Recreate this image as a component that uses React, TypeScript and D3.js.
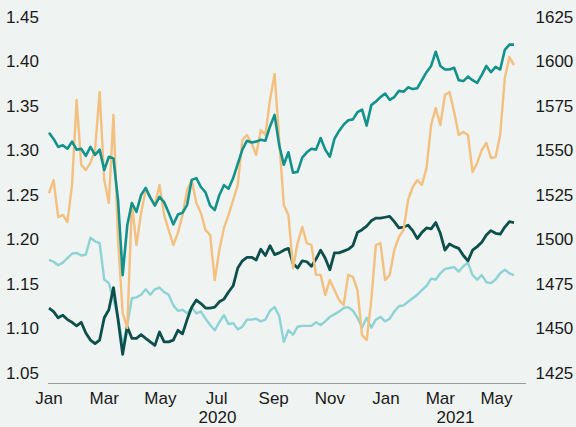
import React from "react";
import * as d3 from "d3";

// one observation every 5 days, 1 Jan 2020 .. 20 May 2021
const dates = d3.timeDay.range(new Date(2020, 0, 1), new Date(2021, 4, 22), 5);

// left axis
const gbpUsd = [
  1.320, 1.313, 1.304, 1.306, 1.302, 1.310, 1.301, 1.302, 1.294, 1.304,
  1.295, 1.301, 1.278, 1.293, 1.291, 1.244, 1.160, 1.216, 1.241, 1.231,
  1.250, 1.258, 1.247, 1.238, 1.248, 1.242, 1.230, 1.217, 1.228, 1.230,
  1.239, 1.267, 1.269, 1.259, 1.253, 1.238, 1.233, 1.250, 1.261, 1.257,
  1.269, 1.285, 1.301, 1.311, 1.309, 1.310, 1.312, 1.311, 1.327, 1.340,
  1.306, 1.284, 1.298, 1.275, 1.276, 1.292, 1.298, 1.302, 1.301, 1.314,
  1.301, 1.293, 1.313, 1.322, 1.329, 1.334, 1.335, 1.343, 1.346, 1.328,
  1.351, 1.355, 1.360, 1.364, 1.357, 1.360, 1.367, 1.366, 1.371, 1.369,
  1.370, 1.379, 1.388, 1.395, 1.411, 1.395, 1.391, 1.391, 1.393, 1.379,
  1.378, 1.383, 1.379, 1.376, 1.385, 1.395, 1.388, 1.394, 1.391, 1.413,
  1.419, 1.419,
];

const eurUsd = [
  1.123, 1.119, 1.112, 1.115, 1.110, 1.107, 1.103, 1.107, 1.095, 1.087,
  1.083, 1.087, 1.112, 1.121, 1.146, 1.110, 1.071, 1.102, 1.089, 1.089,
  1.093, 1.089, 1.085, 1.081, 1.096, 1.085, 1.085, 1.087, 1.098, 1.094,
  1.110, 1.124, 1.132, 1.128, 1.123, 1.123, 1.124, 1.130, 1.133, 1.141,
  1.148, 1.168, 1.176, 1.180, 1.180, 1.177, 1.189, 1.182, 1.193, 1.183,
  1.185, 1.188, 1.190, 1.173, 1.168, 1.176, 1.175, 1.170, 1.178, 1.188,
  1.179, 1.166, 1.185, 1.185, 1.187, 1.189, 1.193, 1.208, 1.211, 1.215,
  1.221, 1.224, 1.224, 1.225, 1.226, 1.220, 1.213, 1.214, 1.216, 1.210,
  1.201, 1.208, 1.213, 1.212, 1.219, 1.207, 1.188, 1.195, 1.192, 1.190,
  1.182, 1.176, 1.188, 1.192, 1.197, 1.205, 1.210, 1.207, 1.206, 1.214,
  1.220, 1.219,
];

const gbpEur = [
  1.177, 1.175, 1.171, 1.174, 1.179, 1.184, 1.185, 1.182, 1.183, 1.202,
  1.198, 1.196, 1.155, 1.151, 1.132, 1.113, 1.081, 1.104, 1.134, 1.135,
  1.138, 1.144, 1.138, 1.144, 1.146, 1.141, 1.138, 1.126, 1.120, 1.121,
  1.117, 1.124, 1.117, 1.119, 1.111, 1.104, 1.098, 1.107, 1.115, 1.105,
  1.106, 1.099, 1.102, 1.110, 1.110, 1.111, 1.108, 1.110, 1.120, 1.124,
  1.114, 1.085, 1.098, 1.093, 1.102, 1.103, 1.103, 1.103, 1.107, 1.104,
  1.108, 1.113, 1.116, 1.119, 1.123, 1.124, 1.120, 1.112, 1.101, 1.112,
  1.101, 1.110, 1.113, 1.108, 1.111, 1.119, 1.125, 1.126, 1.130, 1.134,
  1.138, 1.143, 1.148, 1.156, 1.155, 1.162, 1.167, 1.168, 1.169, 1.164,
  1.170, 1.174, 1.160, 1.155, 1.160, 1.152, 1.151, 1.155, 1.162, 1.166,
  1.162, 1.160,
];

// right axis
const rightSeries = [
  1526.1, 1533.4, 1512.6, 1513.8, 1509.8, 1530.6, 1578.4, 1541.9, 1539.0, 1543.0,
  1550.3, 1582.9, 1533.4, 1520.5, 1570.0, 1499.7, 1458.7, 1450.3, 1520.5, 1496.9,
  1514.9, 1527.8, 1523.9, 1519.4, 1530.6, 1513.8, 1505.3, 1496.9, 1503.7, 1513.8,
  1527.8, 1533.4, 1520.5, 1514.9, 1505.3, 1502.5, 1477.2, 1494.1, 1506.5, 1513.8,
  1522.2, 1530.6, 1555.9, 1558.7, 1554.2, 1547.5, 1561.5, 1558.7, 1578.4, 1593.0,
  1555.9, 1519.4, 1513.8, 1484.0, 1498.0, 1507.0, 1498.0, 1496.9, 1480.1, 1480.1,
  1468.8, 1477.2, 1471.6, 1466.0, 1463.2, 1480.1, 1479.0, 1471.6, 1446.3, 1443.5,
  1466.0, 1496.9, 1498.0, 1477.2, 1480.1, 1494.1, 1501.4, 1505.3, 1522.2, 1529.5,
  1533.4, 1530.6, 1540.2, 1564.3, 1573.9, 1564.3, 1581.2, 1582.9, 1571.6, 1558.7,
  1560.4, 1558.7, 1537.9, 1543.0, 1550.3, 1554.2, 1545.8, 1546.3, 1558.7, 1590.7,
  1602.5, 1598.0,
];

const leftTicks = [1.05, 1.1, 1.15, 1.2, 1.25, 1.3, 1.35, 1.4, 1.45];
const rightTicks = [1425, 1450, 1475, 1500, 1525, 1550, 1575, 1600, 1625];
const monthTicks = [
  new Date(2020, 0, 1), new Date(2020, 2, 1), new Date(2020, 4, 1),
  new Date(2020, 6, 1), new Date(2020, 8, 1), new Date(2020, 10, 1),
  new Date(2021, 0, 1), new Date(2021, 2, 1), new Date(2021, 4, 1),
];
const years = ["2020", "2021"];

const W = 576;
const H = 427;
const FONT = "'Liberation Sans', Arial, Helvetica, sans-serif";

const App = () => {
  const start = new Date(2020, 0, 1);
  const end = new Date(2021, 5, 1);
  const x = d3.scaleTime().domain([start, end]).range([49, 49 + 517 * 0.9208]);
  const yL = d3.scaleLinear().domain([1.05, 1.45]).range([373, 17]);
  const yR = d3.scaleLinear().domain([1425, 1625]).range([373, 17]);

  const lineL = d3.line<number>().x((d, i) => x(dates[i])).y(d => yL(d));
  const lineR = d3.line<number>().x((d, i) => x(dates[i])).y(d => yR(d));

  const fmtL = d3.format(".2f");
  const fmtM = d3.timeFormat("%b");

  const series = [
    { data: gbpEur, line: lineL, color: "#8dd3d5", w: 2.4 },
    { data: eurUsd, line: lineL, color: "#0c4f4b", w: 2.8 },
    { data: rightSeries, line: lineR, color: "#f3c07f", w: 2.4 },
    { data: gbpUsd, line: lineL, color: "#13928b", w: 2.6 },
  ];

  return (
    <svg
      width={W}
      height={H}
      style={{ position: "absolute", left: 0, top: 0, display: "block" }}
      fontFamily={FONT}
    >
      <rect width={W} height={H} fill="#eff3f2" />
      {leftTicks.map(t => (
        <text key={"l" + t} x={39} y={yL(t)} dy="0.35em" textAnchor="end" fontSize={17} fill="#1a1a1a">
          {fmtL(t)}
        </text>
      ))}
      {rightTicks.map(t => (
        <text key={"r" + t} x={535.5} y={yR(t)} dy="0.35em" textAnchor="start" fontSize={17} fill="#1a1a1a">
          {t}
        </text>
      ))}
      <line x1={48} x2={526} y1={383.5} y2={383.5} stroke="#9a9a9a" strokeWidth={1.2} />
      {monthTicks.map((m, i) => (
        <text key={"m" + i} x={x(m)} y={403.5} textAnchor="middle" fontSize={17} fill="#1a1a1a">
          {fmtM(m)}
        </text>
      ))}
      {years.map(yr => {
        const a = Math.max(x(new Date(+yr, 0, 1)), x(start));
        const b = Math.min(x(new Date(+yr + 1, 0, 1)), x(end));
        return (
          <text key={yr} x={(a + b) / 2} y={422.5} textAnchor="middle" fontSize={17} fill="#1a1a1a">
            {yr}
          </text>
        );
      })}
      {series.map((s, i) => (
        <path
          key={i}
          d={s.line(s.data) || ""}
          fill="none"
          stroke={s.color}
          strokeWidth={s.w}
          strokeLinejoin="round"
        />
      ))}
    </svg>
  );
};

export default App;
